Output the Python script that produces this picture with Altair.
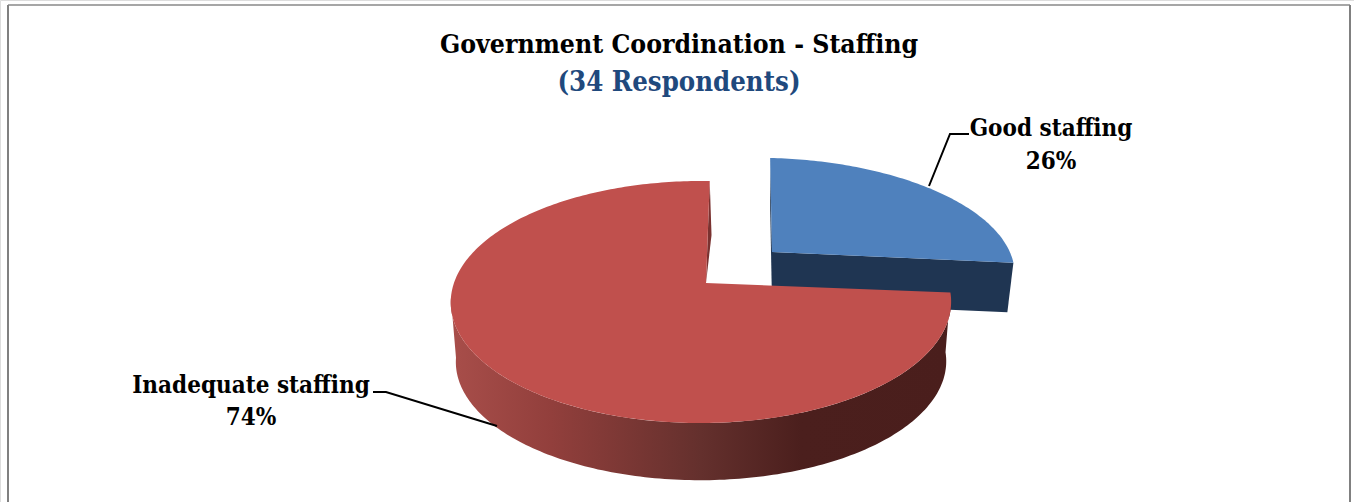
import math
import altair as alt
import pandas as pd

# Survey results
categories = ["Good staffing", "Inadequate staffing"]
shares = [26, 74]
title_text = "Government Coordination - Staffing"
subtitle_text = "(34 Respondents)"

WIDTH, HEIGHT = 1354, 502
SERIF = "DejaVu Serif Condensed"

# Perspective model of each exploded slice
good_slice = dict(cx=772, cy=252, a=245, b=108.8, k=0.157, m=0.022, rot=-0.5, shear=0.02,
                  drop=50, base=0.975)
bad_slice = dict(cx=706, cy=283, a=247, b=118, k=0.157, m=0.02, rot=1, shear=0.0,
                 drop=60, base=0.98)


def rim(s, deg, base=False):
    t = math.radians(deg + s["rot"])
    scale = s["base"] if base else 1.0
    w = 1 + s["k"] * math.cos(t) + s["m"] * math.sin(t)
    dx = scale * s["a"] * math.sin(t) / w
    dy = -scale * s["b"] * math.cos(t) / w + s["shear"] * dx
    return s["cx"] + dx, s["cy"] + dy + (s["drop"] if base else 0)


def apex(s, base=False):
    return s["cx"], s["cy"] + (s["drop"] if base else 0)


def arc(s, start, stop, base=False):
    n = int(abs(stop - start)) + 1
    return [rim(s, start + (stop - start) * i / n, base) for i in range(n + 1)]


def frame(points):
    return pd.DataFrame([{"x": p[0], "y": p[1], "i": i} for i, p in enumerate(points)])


x_scale = alt.Scale(domain=[0, WIDTH], nice=False, zero=False)
y_scale = alt.Scale(domain=[HEIGHT, 0], nice=False, zero=False)
X = alt.X("x:Q", scale=x_scale, axis=None)
Y = alt.Y("y:Q", scale=y_scale, axis=None)


def polygon(points, fill):
    return (
        alt.Chart(frame(points))
        .mark_line(fill=fill, stroke=None, strokeWidth=0, interpolate="linear", clip=False)
        .encode(x=X, y=Y, order=alt.Order("i:Q"))
    )


def polyline(points, color="#000000", width=2):
    return (
        alt.Chart(frame(points))
        .mark_line(color=color, strokeWidth=width)
        .encode(x=X, y=Y, order=alt.Order("i:Q"))
    )


good_end = shares[0] * 3.6
bad_end = good_end + shares[1] * 3.6

# Blue slice: inner cut face, then the top surface
blue_face = polygon(
    [apex(good_slice), rim(good_slice, good_end), rim(good_slice, good_end, True), apex(good_slice, True)],
    "#1F3552",
)
blue_left = polygon(
    [apex(good_slice), rim(good_slice, 0), rim(good_slice, 0, True), apex(good_slice, True)],
    "#1F3552",
)
blue_top = polygon([apex(good_slice)] + arc(good_slice, 0, good_end), "#4F81BD")

# Red slice: cut face, curved outer wall, top surface
red_start = rim(bad_slice, bad_end)
red_cut = polygon(
    [apex(bad_slice), red_start, (red_start[0] + 1.8, red_start[1] + 54), apex(bad_slice)],
    "#7A3230",
)
wall_gradient = alt.Gradient(
    gradient="linear", x1=0, x2=1, y1=0, y2=0,
    stops=[
        alt.GradientStop(offset=0.0, color="#A84E4A"),
        alt.GradientStop(offset=0.2, color="#923F3C"),
        alt.GradientStop(offset=0.5, color="#64302D"),
        alt.GradientStop(offset=0.7, color="#4B1F1D"),
        alt.GradientStop(offset=1.0, color="#4A1E1C"),
    ],
)
# The wall ends at the left silhouette, where the rim turns back behind the top surface
red_wall = polygon(
    arc(bad_slice, good_end, 262) + arc(bad_slice, 262, good_end, True),
    wall_gradient,
)
red_top = polygon([apex(bad_slice)] + arc(bad_slice, good_end, bad_end), "#C0504D")

# Leader lines
leader_good = polyline([(969, 134), (950, 134), (929, 186)])
leader_bad = polyline([(373, 392), (386, 392), (497, 426)])

# Data labels
labels = pd.DataFrame(
    {
        "text": [categories[0], f"{shares[0]}%", categories[1], f"{shares[1]}%"],
        "x": [1051, 1051, 251, 251],
        "y": [129, 162, 386, 418],
    }
)
label_layer = (
    alt.Chart(labels)
    .mark_text(font=SERIF, fontWeight="bold", fontSize=24, color="#000000", align="center", baseline="middle")
    .encode(x=X, y=Y, text="text:N")
)

# Outer chart frame
sides = pd.DataFrame({"x": [8, 1350], "y": [502, 502], "x2": [8, 1350], "y2": [5, 5]})
top_edge = pd.DataFrame({"x": [8], "y": [5], "x2": [1350], "y2": [5]})
border_sides = (
    alt.Chart(sides).mark_rule(color="#808080", strokeWidth=2).encode(x=X, y=Y, x2="x2:Q", y2="y2:Q")
)
border_top = (
    alt.Chart(top_edge).mark_rule(color="#A6A6A6", strokeWidth=2).encode(x=X, y=Y, x2="x2:Q", y2="y2:Q")
)

chart = (
    alt.layer(
        border_top, border_sides, blue_left, blue_face, blue_top, red_cut, red_wall, red_top,
        leader_good, leader_bad, label_layer,
    )
    .properties(
        width=WIDTH,
        height=HEIGHT,
        padding=0,
        autosize=alt.AutoSizeParams(type="none"),
        title=alt.TitleParams(
            text=title_text,
            subtitle=subtitle_text,
            font=SERIF,
            fontWeight="bold",
            fontSize=26.4,
            color="#000000",
            subtitleFont=SERIF,
            subtitleFontWeight="bold",
            subtitleFontSize=27.3,
            subtitleColor="#1F497D",
            subtitlePadding=10,
            anchor="middle",
            dx=2,
            offset=-96,
        ),
    )
    .configure_view(stroke=None)
    .configure(background="#FFFFFF")
)

chart.save("out.html", embed_options={"renderer": "svg", "actions": False})
